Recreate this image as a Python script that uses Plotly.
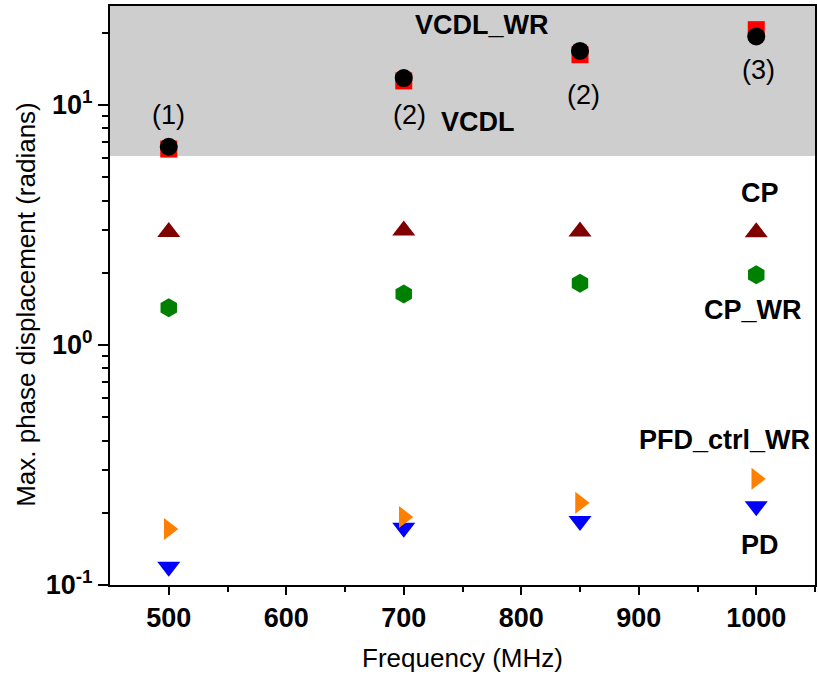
import plotly.graph_objects as go

freq = [500, 700, 850, 1000]
vcdl_wr = [6.55, 12.6, 16.2, 20.6]
vcdl = [6.7, 12.95, 16.8, 19.3]
cp = [2.96, 3.0, 2.97, 2.95]
cp_wr = [1.43, 1.63, 1.81, 1.96]
pfd_ctrl_wr = [0.171, 0.192, 0.22, 0.277]
pd = [0.119, 0.173, 0.185, 0.213]

x_ticks = [500, 600, 700, 800, 900, 1000]
y_ticks = [0.1, 1, 10]
y_ticktext = ["10<sup>-1</sup>", "10<sup>0</sup>", "10<sup>1</sup>"]
y_minor = [0.2, 0.3, 0.4, 0.5, 0.6, 0.7, 0.8, 0.9, 2, 3, 4, 5, 6, 7, 8, 9, 20]
shade_low = 6.13

FONT = "Liberation Sans, Arial, sans-serif"

fig = go.Figure()
fig.add_trace(go.Scatter(x=freq, y=vcdl_wr, mode="markers", name="VCDL_WR",
                         marker=dict(symbol="square", size=17, color="#ff0000")))
fig.add_trace(go.Scatter(x=freq, y=vcdl, mode="markers", name="VCDL",
                         marker=dict(symbol="circle", size=18, color="#000000")))
fig.add_trace(go.Scatter(x=freq, y=cp, mode="markers", name="CP",
                         marker=dict(symbol="triangle-up", size=20, color="#800000")))
fig.add_trace(go.Scatter(x=freq, y=cp_wr, mode="markers", name="CP_WR",
                         marker=dict(symbol="hexagon", size=19, color="#008000")))
fig.add_trace(go.Scatter(x=freq, y=pd, mode="markers", name="PD",
                         marker=dict(symbol="triangle-down", size=20, color="#0000ff")))
fig.add_trace(go.Scatter(x=freq, y=pfd_ctrl_wr, mode="markers", name="PFD_ctrl_WR",
                         marker=dict(symbol="triangle-right", size=19, color="#ff8000")))

fig.add_shape(type="rect", xref="paper", yref="y", x0=0, x1=1, y0=shade_low, y1=30,
              fillcolor="#cecece", line=dict(width=0), layer="below")

def ann(text, x, ly, bold=False):
    fig.add_annotation(x=x, y=ly, text=f"<b>{text}</b>" if bold else text,
                       showarrow=False, font=dict(family=FONT, size=27, color="black"))

ann("(1)", 500, 0.958)
ann("(2)", 705, 0.958)
ann("VCDL", 763, 0.929, True)
ann("VCDL_WR", 767, 1.333, True)
ann("(2)", 853, 1.042)
ann("(3)", 1002, 1.146)
ann("CP", 1003, 0.633, True)
ann("CP_WR", 997, 0.146, True)
ann("PFD_ctrl_WR", 973, -0.396, True)
ann("PD", 1003, -0.833, True)

# y-axis title
fig.add_annotation(xref="paper", yref="paper", x=-0.119, y=0.484, xanchor="center",
                   yanchor="middle", textangle=-90, showarrow=False,
                   text="Max. phase displacement (radians)",
                   font=dict(family=FONT, size=26, color="black"))

fig.update_layout(
    width=818, height=679,
    margin=dict(l=110, r=1, t=6, b=94),
    plot_bgcolor="white", paper_bgcolor="white",
    showlegend=False,
    font=dict(family=FONT, color="black"),
)
fig.update_xaxes(
    range=[450, 1050], tickvals=x_ticks, ticks="outside", ticklen=8, tickwidth=2,
    tickcolor="black", showline=True, linewidth=2, linecolor="black", mirror=True,
    showgrid=False, zeroline=False,
    tickfont=dict(family=FONT, size=27, weight="bold"),
    minor=dict(tickvals=[550, 650, 750, 850, 950, 1050], ticks="outside", ticklen=5,
               tickwidth=2, tickcolor="black"),
    title=dict(text="Frequency (MHz)", font=dict(family=FONT, size=26), standoff=16),
)
fig.update_yaxes(
    type="log", range=[-1, 1.4125], tickvals=y_ticks, ticktext=y_ticktext,
    ticks="outside", ticklen=10, tickwidth=2, tickcolor="black",
    showline=True, linewidth=2, linecolor="black", mirror=True,
    showgrid=False, zeroline=False,
    tickfont=dict(family=FONT, size=27, weight="bold"),
    minor=dict(tickvals=y_minor, ticks="outside", ticklen=6, tickwidth=2, tickcolor="black"),
)

fig.write_html("out.html")
